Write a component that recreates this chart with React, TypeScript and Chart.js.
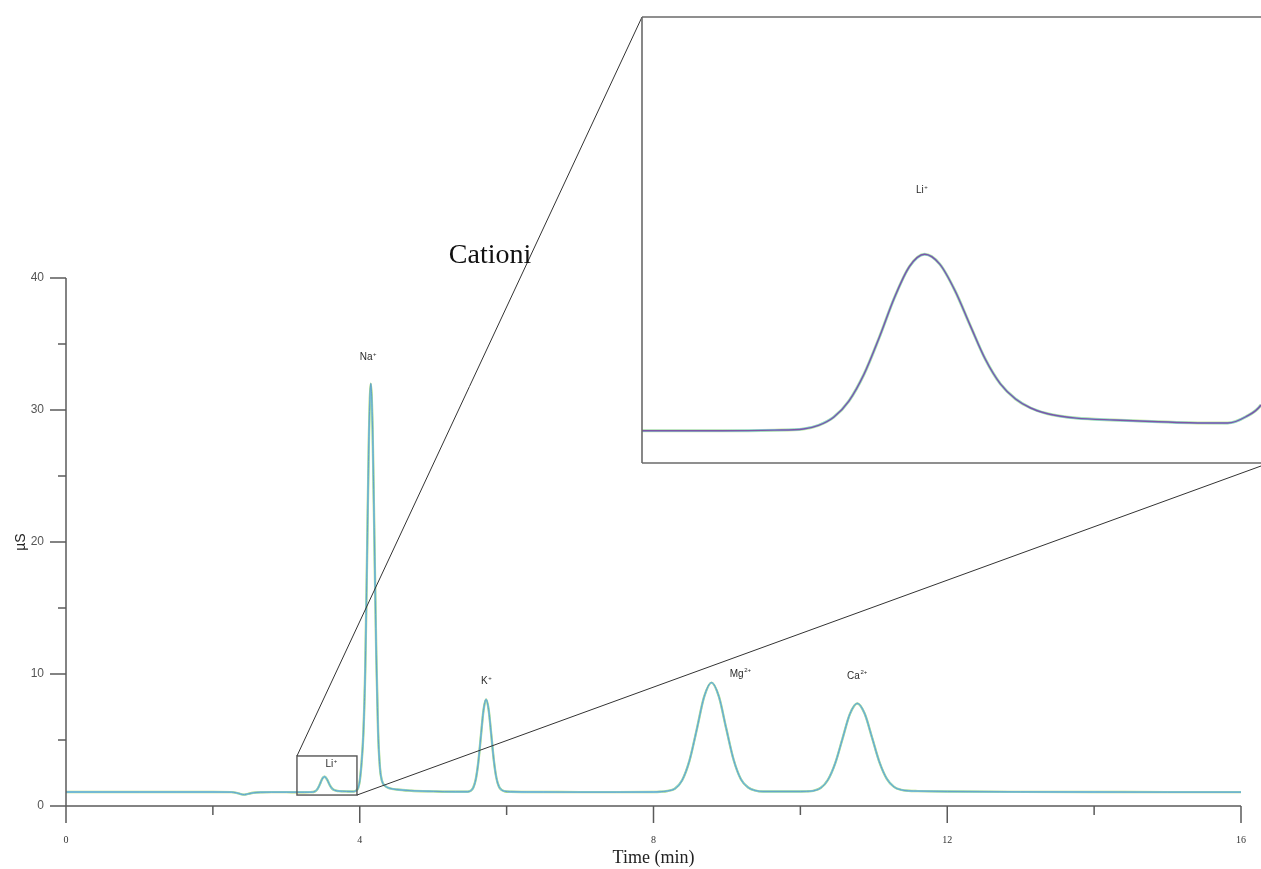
import React, { useEffect, useRef } from 'react';
import { Chart, registerables } from 'chart.js';

Chart.register(...registerables);

// ---- data ----
const times = [
  0.0, 0.5, 1.0, 1.5, 2.0, 2.25, 2.32, 2.38, 2.43, 2.48, 2.55, 2.65, 2.8, 3.0,
  3.142, 3.25, 3.32, 3.358, 3.378, 3.398, 3.418, 3.438, 3.458, 3.478, 3.498, 3.518,
  3.538, 3.558, 3.578, 3.598, 3.618, 3.638, 3.658, 3.678, 3.698, 3.718, 3.768, 3.818,
  3.868, 3.918, 3.942, 3.962,
  3.98, 4.0, 4.025, 4.05, 4.075, 4.1, 4.125, 4.15, 4.175, 4.2, 4.225, 4.25, 4.275,
  4.3, 4.35, 4.4, 4.5, 4.7, 5.0, 5.3, 5.47, 5.51, 5.545, 5.58, 5.615, 5.65, 5.685,
  5.72, 5.755, 5.79, 5.825, 5.86, 5.895, 5.93, 5.97, 6.05, 6.5, 7.0, 7.5, 8.0, 8.09,
  8.19, 8.29, 8.39, 8.49, 8.59, 8.69, 8.79, 8.89, 8.99, 9.09, 9.19, 9.29, 9.39, 9.49,
  9.6, 10.0, 10.08, 10.175, 10.275, 10.375, 10.475, 10.575, 10.675, 10.775, 10.875,
  10.975, 11.075, 11.175, 11.275, 11.375, 11.475, 11.6, 12.0, 13.0, 14.0, 15.0, 16.0,
];
const signal = [
  1.06, 1.06, 1.06, 1.06, 1.06, 1.05, 1.0, 0.9, 0.86, 0.92, 1.0, 1.04, 1.05, 1.05,
  1.044, 1.044, 1.048, 1.056, 1.08, 1.134, 1.241, 1.419, 1.661, 1.925, 2.134, 2.215,
  2.15, 1.975, 1.745, 1.52, 1.355, 1.255, 1.195, 1.16, 1.14, 1.128, 1.115, 1.105,
  1.097, 1.095, 1.137, 1.215,
  1.4, 1.9, 3.3, 5.6, 10.4, 19.0, 28.0, 32.0, 28.5, 20.0, 11.5, 5.6, 2.9,
  1.95, 1.5, 1.36, 1.25, 1.16, 1.11, 1.08, 1.08, 1.15, 1.38, 2.02, 3.34, 5.32, 7.25,
  8.07, 7.3, 5.45, 3.5, 2.15, 1.48, 1.22, 1.12, 1.08, 1.06, 1.05, 1.05, 1.06, 1.08,
  1.14, 1.31, 1.95, 3.44, 5.82, 8.28, 9.35, 8.3, 5.88, 3.52, 2.03, 1.4, 1.17, 1.1,
  1.1, 1.1, 1.11, 1.15, 1.36, 1.98, 3.25, 5.13, 6.98, 7.77, 7.0,
  5.2, 3.35, 2.08, 1.45, 1.22, 1.15, 1.13, 1.1, 1.07, 1.06, 1.05, 1.05,
];

const xTickValues = [0, 2, 4, 6, 8, 10, 12, 14, 16];
const xLabeledTicks = [0, 4, 8, 12, 16];
const yTickValues = [0, 5, 10, 15, 20, 25, 30, 35, 40];
const yLabeledTicks = [0, 10, 20, 30, 40];

const peakNames = ['Li', 'Na', 'K', 'Mg', 'Ca'];
const peakCharges = ['+', '+', '+', '2+', '2+'];
const peakLabelTimes = [3.61, 4.11, 5.72, 9.18, 10.77];
const peakLabelValues = [3.15, 34.0, 9.45, 10.0, 9.85];

const zoomTimeRange = [3.145, 3.962];
const zoomValueRange = [0.83, 3.79];
const insetLabelTime = 3.514;
const insetLabelValue = 2.64;

// ---- layout / style ----
const W = 1261;
const H = 869;
const INSET = { left: 642, top: 17, right: 1261, bottom: 463 };
const AXIS = '#5a5a5a';
const SANS = '"Liberation Sans", Arial, sans-serif';
const SERIF = '"Liberation Serif", "Times New Roman", serif';

const points = times.map((t, i) => ({ x: t, y: signal[i] }));

function drawIon(ctx: CanvasRenderingContext2D, name: string, charge: string, cx: number, cy: number, size: number) {
  const base = `${size}px ${SANS}`;
  const supS = Math.round(size * 0.62);
  const sup = `${supS}px ${SANS}`;
  ctx.font = base;
  const w1 = ctx.measureText(name).width;
  ctx.font = sup;
  const w2 = ctx.measureText(charge).width;
  const left = cx - (w1 + w2) / 2;
  ctx.fillStyle = '#2a2a2a';
  ctx.textAlign = 'left';
  ctx.textBaseline = 'middle';
  ctx.font = base;
  ctx.fillText(name, left, cy);
  ctx.font = sup;
  ctx.fillText(charge, left + w1 + 0.5, cy - size * 0.32);
}

function line(ctx: CanvasRenderingContext2D, x1: number, y1: number, x2: number, y2: number) {
  ctx.beginPath();
  ctx.moveTo(x1, y1);
  ctx.lineTo(x2, y2);
  ctx.stroke();
}

const mainDecor = {
  id: 'mainDecor',
  afterDraw(chart: any) {
    const { ctx } = chart;
    const x = chart.scales.x;
    const y = chart.scales.y;
    const x0 = x.getPixelForValue(0);
    const x1 = x.getPixelForValue(16);
    const y0 = y.getPixelForValue(0);
    const y1 = y.getPixelForValue(40);
    ctx.save();
    ctx.strokeStyle = AXIS;
    ctx.lineWidth = 1.5;
    line(ctx, x0, y1, x0, y0);
    line(ctx, x0, y0, x1, y0);
    xTickValues.forEach((t) => {
      const px = x.getPixelForValue(t);
      const len = xLabeledTicks.includes(t) ? 17 : 9;
      line(ctx, px, y0, px, y0 + len);
    });
    yTickValues.forEach((v) => {
      const py = y.getPixelForValue(v);
      const len = yLabeledTicks.includes(v) ? 16 : 8;
      line(ctx, x0, py, x0 - len, py);
    });
    // zoom box
    const bx0 = x.getPixelForValue(zoomTimeRange[0]);
    const bx1 = x.getPixelForValue(zoomTimeRange[1]);
    const by0 = y.getPixelForValue(zoomValueRange[1]);
    const by1 = y.getPixelForValue(zoomValueRange[0]);
    ctx.strokeStyle = '#555';
    ctx.lineWidth = 1.4;
    ctx.strokeRect(bx0, by0, bx1 - bx0, by1 - by0);
    ctx.strokeStyle = '#333';
    ctx.lineWidth = 1;
    line(ctx, bx0, by0, INSET.left, INSET.top);
    line(ctx, bx1, by1, INSET.right, INSET.bottom + 3);
    // peak labels
    peakNames.forEach((n, i) => {
      drawIon(ctx, n, peakCharges[i], x.getPixelForValue(peakLabelTimes[i]), y.getPixelForValue(peakLabelValues[i]), 10);
    });
    // title text
    ctx.fillStyle = '#111';
    ctx.font = `28px ${SERIF}`;
    ctx.textAlign = 'center';
    ctx.textBaseline = 'middle';
    ctx.fillText('Cationi', 490, 256);
    ctx.restore();
  },
};

const insetDecor = {
  id: 'insetDecor',
  afterDraw(chart: any) {
    const { ctx, chartArea } = chart;
    const x = chart.scales.x;
    const y = chart.scales.y;
    ctx.save();
    ctx.strokeStyle = '#6a6a6a';
    ctx.lineWidth = 1.6;
    line(ctx, chartArea.left, chartArea.top, chartArea.right, chartArea.top);
    line(ctx, chartArea.left, chartArea.top, chartArea.left, chartArea.bottom);
    line(ctx, chartArea.left, chartArea.bottom, chartArea.right, chartArea.bottom);
    drawIon(ctx, 'Li', '+', x.getPixelForValue(insetLabelTime), y.getPixelForValue(insetLabelValue), 10);
    ctx.restore();
  },
};

export default function App() {
  const mainRef = useRef<HTMLCanvasElement>(null);
  const insetRef = useRef<HTMLCanvasElement>(null);

  useEffect(() => {
    const main = new Chart(mainRef.current as HTMLCanvasElement, {
      type: 'line',
      data: {
        datasets: [
          { data: points, borderColor: '#5f9fc4', borderWidth: 0.9, pointRadius: 0, cubicInterpolationMode: 'monotone', fill: false },
          { data: points, borderColor: '#86cfe0', borderWidth: 1.8, pointRadius: 0, cubicInterpolationMode: 'monotone', fill: false },
          { data: points, borderColor: '#b2da78', borderWidth: 2.4, pointRadius: 0, cubicInterpolationMode: 'monotone', fill: false },
        ],
      },
      options: {
        responsive: false,
        animation: false,
        devicePixelRatio: 1,
        layout: { padding: { top: 278, right: 20, left: 0, bottom: 0 } },
        plugins: { legend: { display: false }, tooltip: { enabled: false } },
        scales: {
          x: {
            type: 'linear',
            min: 0,
            max: 16,
            afterFit: (s: any) => { s.height = 63; },
            grid: { display: false, drawTicks: true, tickLength: 25 },
            border: { display: false },
            ticks: {
              stepSize: 2,
              autoSkip: false,
              maxRotation: 0,
              padding: 3,
              color: '#333',
              font: { family: SERIF, size: 10 },
              callback: (v: any) => (xLabeledTicks.includes(Number(v)) ? String(v) : ''),
            },
            title: { display: true, text: 'Time (min)', color: '#222', font: { family: SERIF, size: 18 }, padding: { top: 0, bottom: 0 } },
          },
          y: {
            type: 'linear',
            min: 0,
            max: 40,
            afterFit: (s: any) => { s.width = 66; },
            grid: { display: false, drawTicks: true, tickLength: 19 },
            border: { display: false },
            ticks: {
              stepSize: 5,
              autoSkip: false,
              padding: 3,
              color: '#555',
              font: { family: SANS, size: 12 },
              callback: (v: any) => (yLabeledTicks.includes(Number(v)) ? String(v) : ''),
            },
            title: { display: true, text: 'µS', color: '#222', font: { family: SANS, size: 14 }, padding: { top: 13, bottom: 0 } },
          },
        },
      } as any,
      plugins: [mainDecor],
    });

    const inset = new Chart(insetRef.current as HTMLCanvasElement, {
      type: 'line',
      data: {
        datasets: [
          { data: points, borderColor: '#7e56a6', borderWidth: 1.4, pointRadius: 0, cubicInterpolationMode: 'monotone', fill: false },
          { data: points, borderColor: '#80d4e0', borderWidth: 2.2, pointRadius: 0, cubicInterpolationMode: 'monotone', fill: false },
          { data: points, borderColor: '#c6e6a0', borderWidth: 3, pointRadius: 0, cubicInterpolationMode: 'monotone', fill: false },
        ],
      },
      options: {
        responsive: false,
        animation: false,
        devicePixelRatio: 1,
        layout: { padding: { top: 1, left: 1, right: 0, bottom: 1 } },
        plugins: { legend: { display: false }, tooltip: { enabled: false } },
        scales: {
          x: { type: 'linear', display: false, min: zoomTimeRange[0], max: zoomTimeRange[1] },
          y: { type: 'linear', display: false, min: zoomValueRange[0], max: zoomValueRange[1] },
        },
      } as any,
      plugins: [insetDecor],
    });

    return () => {
      main.destroy();
      inset.destroy();
    };
  }, []);

  return (
    <div style={{ position: 'absolute', left: 0, top: 0, width: W, height: H, background: '#fff', overflow: 'hidden' }}>
      <canvas ref={mainRef} width={W} height={H} style={{ position: 'absolute', left: 0, top: 0, display: 'block' }} />
      <canvas
        ref={insetRef}
        width={INSET.right - INSET.left + 1}
        height={INSET.bottom - INSET.top + 2}
        style={{ position: 'absolute', left: INSET.left - 1, top: INSET.top - 1, display: 'block' }}
      />
    </div>
  );
}
